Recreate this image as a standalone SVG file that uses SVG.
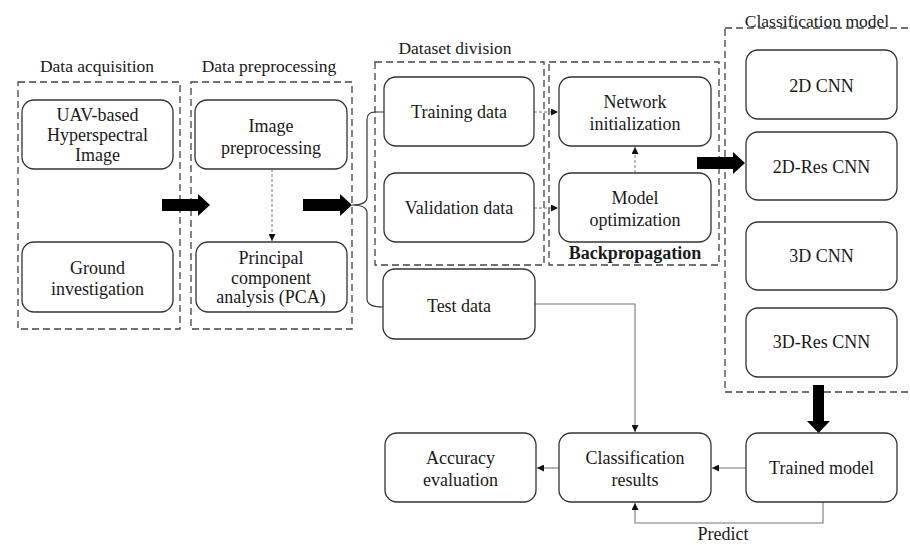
<svg xmlns="http://www.w3.org/2000/svg" width="910" height="545" viewBox="0 0 910 545">
<defs>
<style>
text{font-family:"Liberation Serif","Times New Roman",serif;font-size:18px;fill:#1a1a1a;text-anchor:middle}
.title{font-size:17.5px}
.bold{font-weight:bold}
.box{fill:#fff;stroke:#333;stroke-width:1.3}
.group{fill:none;stroke:#444;stroke-width:1.3;stroke-dasharray:7 4}
.conn{fill:none;stroke:#777;stroke-width:1.1}
.dconn{fill:none;stroke:#777;stroke-width:1;stroke-dasharray:3 2}
.brace{fill:none;stroke:#333;stroke-width:1.2}
.thick{fill:#000}
</style>
<marker id="ah" viewBox="0 0 8 8" refX="8" refY="4" markerWidth="7" markerHeight="7" markerUnits="userSpaceOnUse" orient="auto">
<path d="M0,0 L8,4 L0,8 Z" fill="#111"/>
</marker>
</defs>

<g id="groups">
<rect class="group" x="18" y="82" width="162" height="247"/>
<rect class="group" x="191" y="82" width="161" height="247"/>
<rect class="group" x="375" y="62" width="169" height="203"/>
<rect class="group" x="549" y="62" width="170" height="203"/>
<rect class="group" x="725" y="28" width="190" height="364"/>
</g>

<g id="titles">
<text class="title" x="97" y="72">Data acquisition</text>
<text class="title" x="269" y="72">Data preprocessing</text>
<text class="title" x="455" y="54">Dataset division</text>
<text class="title" x="817" y="27">Classification model</text>
<text class="bold" x="635" y="259">Backpropagation</text>
</g>

<g id="connectors">
<path class="dconn" d="M272,169 V241" marker-end="url(#ah)"/>
<path class="dconn" d="M534,112 H558" marker-end="url(#ah)"/>
<path class="dconn" d="M534,208 H558" marker-end="url(#ah)"/>
<path class="dconn" d="M635,173 V147" marker-end="url(#ah)"/>
<path class="brace" d="M384,112 H375 Q367,112 367,120 V197 Q367,205 352,205 Q367,205 367,213 V299 Q367,307 383,307"/>
<path class="conn" d="M535,304 H635 V432" marker-end="url(#ah)"/>
<path class="conn" d="M746,468 H712" marker-end="url(#ah)"/>
<path class="conn" d="M559,468 H537" marker-end="url(#ah)"/>
<path class="conn" d="M823,502 V523 H635 V503" marker-end="url(#ah)"/>
<text x="723" y="540">Predict</text>
<polygon class="thick" points="162,199 198,199 198,194 210,205 198,216 198,211 162,211"/>
<polygon class="thick" points="303,199 340,199 340,194 352,205 340,216 340,211 303,211"/>
<polygon class="thick" points="697,157 733,157 733,152 745,163 733,174 733,169 697,169"/>
<polygon class="thick" points="813,385 824,385 824,421 830,421 818.5,433 807,421 813,421"/>
</g>

<g id="uav">
<rect class="box" x="22" y="100" width="151" height="69" rx="12"/>
<text x="97.5" y="121">UAV-based</text>
<text x="97.5" y="141">Hyperspectral</text>
<text x="97.5" y="161">Image</text>
</g>
<g id="ground">
<rect class="box" x="22" y="242" width="151" height="70" rx="12"/>
<text x="97.5" y="274">Ground</text>
<text x="97.5" y="295">investigation</text>
</g>
<g id="imgpre">
<rect class="box" x="195" y="100" width="152" height="69" rx="12"/>
<text x="271" y="132">Image</text>
<text x="271" y="154">preprocessing</text>
</g>
<g id="pca">
<rect class="box" x="196" y="242" width="151" height="70" rx="12"/>
<text x="271" y="264">Principal</text>
<text x="271" y="284">component</text>
<text x="271" y="303">analysis (PCA)</text>
</g>
<g id="training">
<rect class="box" x="384" y="77" width="150" height="69" rx="12"/>
<text x="459" y="118">Training data</text>
</g>
<g id="validation">
<rect class="box" x="384" y="173" width="150" height="69" rx="12"/>
<text x="459" y="214">Validation data</text>
</g>
<g id="test">
<rect class="box" x="383" y="269" width="152" height="70" rx="12"/>
<text x="459" y="312">Test data</text>
</g>
<g id="netinit">
<rect class="box" x="559" y="77" width="152" height="69" rx="12"/>
<text x="635" y="108">Network</text>
<text x="635" y="130">initialization</text>
</g>
<g id="modelopt">
<rect class="box" x="559" y="173" width="152" height="69" rx="12"/>
<text x="635" y="204">Model</text>
<text x="635" y="226">optimization</text>
</g>
<g id="cnn2d">
<rect class="box" x="746" y="50" width="151" height="69" rx="12"/>
<text x="821.5" y="92">2D CNN</text>
</g>
<g id="res2d">
<rect class="box" x="746" y="132" width="151" height="68" rx="12"/>
<text x="821.5" y="173">2D-Res CNN</text>
</g>
<g id="cnn3d">
<rect class="box" x="746" y="222" width="151" height="68" rx="12"/>
<text x="821.5" y="262">3D CNN</text>
</g>
<g id="res3d">
<rect class="box" x="746" y="308" width="151" height="69" rx="12"/>
<text x="821.5" y="348">3D-Res CNN</text>
</g>
<g id="accuracy">
<rect class="box" x="385" y="433" width="151" height="69" rx="12"/>
<text x="460.5" y="464">Accuracy</text>
<text x="460.5" y="486">evaluation</text>
</g>
<g id="classres">
<rect class="box" x="559" y="433" width="152" height="69" rx="12"/>
<text x="635" y="464">Classification</text>
<text x="635" y="486">results</text>
</g>
<g id="trained">
<rect class="box" x="746" y="433" width="151" height="69" rx="12"/>
<text x="821.5" y="474">Trained model</text>
</g>
</svg>
